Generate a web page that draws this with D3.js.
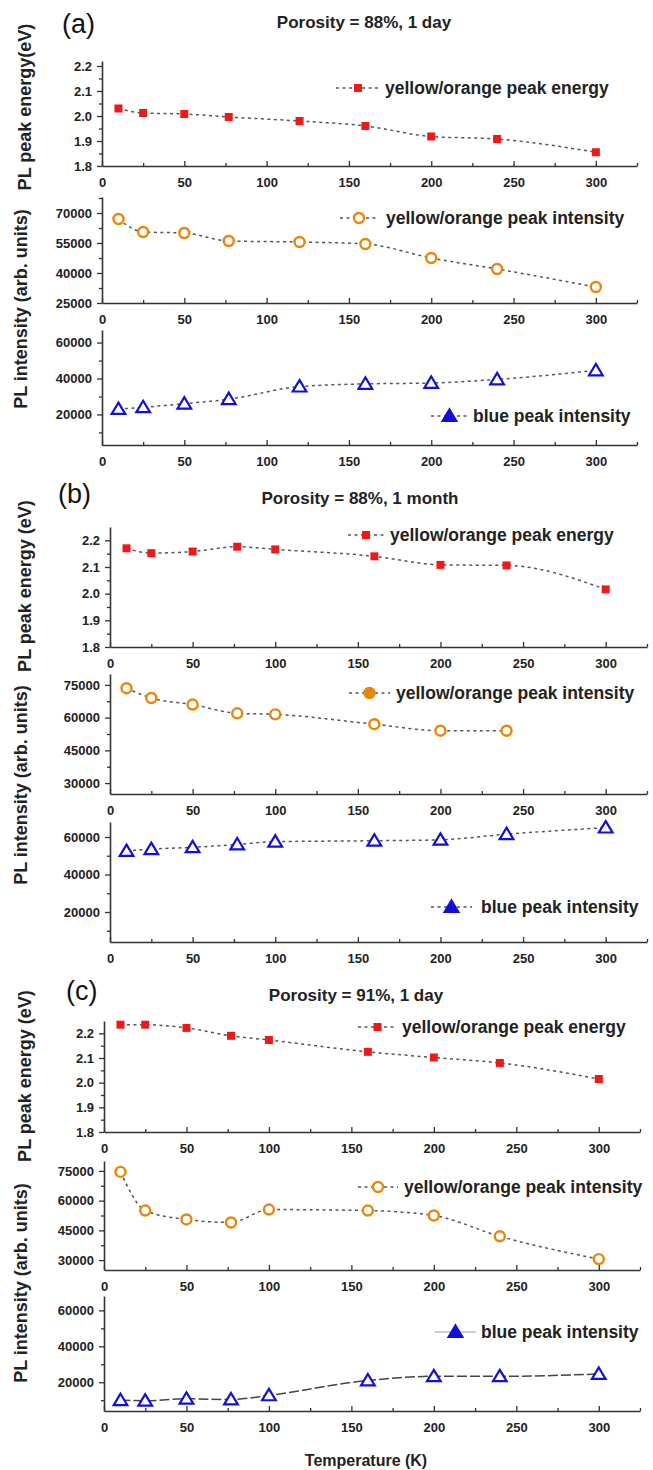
<!DOCTYPE html>
<html>
<head>
<meta charset="utf-8">
<script src="https://cdn.jsdelivr.net/npm/d3@7"></script>
<style>
  body { margin: 0; background: #fff; }
  svg { display: block; font-family: "Liberation Sans", Arial, sans-serif; }
</style>
</head>
<body>
<div id="chart"></div>
<script>
// temperatures (K)
const tempsA = [10, 25, 50, 77, 120, 160, 200, 240, 300];
const tempsBC = [10, 25, 50, 77, 100, 160, 200, 240, 300];
const tempsB2 = [10, 25, 50, 77, 100, 160, 200, 240];

// (a) porosity 88%, 1 day
const energyA = [2.03, 2.012, 2.008, 1.996, 1.98, 1.96, 1.918, 1.908, 1.855];
const yoIntA = [67000, 60500, 60000, 56000, 55500, 54500, 47500, 42000, 33000];
const blueA = [23000, 24000, 26000, 28500, 35500, 37000, 37500, 39500, 44500];

// (b) porosity 88%, 1 month
const energyB = [2.17, 2.152, 2.158, 2.176, 2.166, 2.14, 2.108, 2.106, 2.016];
const yoIntB = [73500, 69000, 66000, 62000, 61500, 57000, 54000, 54000];
const blueB = [52500, 53500, 54500, 56000, 57500, 58000, 58500, 61500, 65000];

// (c) porosity 91%, 1 day
const energyC = [2.235, 2.235, 2.222, 2.19, 2.173, 2.125, 2.102, 2.08, 2.015];
const yoIntC = [74500, 55000, 50500, 49000, 55500, 55000, 52500, 42000, 30500];
const blueC = [10000, 9700, 10800, 10400, 12700, 21000, 23300, 23300, 24600];

// ticks
const xTicks = [0, 50, 100, 150, 200, 250, 300];
const xMinor = [25, 75, 125, 175, 225, 275, 325];
const energyTicks = [1.8, 1.9, 2.0, 2.1, 2.2];
const energyMinor = [1.85, 1.95, 2.05, 2.15];
const intTicksA = [25000, 40000, 55000, 70000];
const intMinorA = [32500, 47500, 62500, 77500];
const intTicksBC = [30000, 45000, 60000, 75000];
const intMinorBC = [37500, 52500, 67500];
const blueTicks = [20000, 40000, 60000];
const blueMinor = [10000, 30000, 50000];

const labels = ['yellow/orange peak energy', 'yellow/orange peak intensity', 'blue peak intensity'];

const W = 653, H = 1470;
const svg = d3.select('#chart').append('svg').attr('width', W).attr('height', H);

const RED = '#f01818', ORANGE = '#e8860c', BLUE = '#1010d8';

// layout of each sub plot
const plots = [
  {xr: [102, 637], yr: [166, 61], dom: [1.8, 2.22], ticks: energyTicks, minor: energyMinor, fmt: d3.format('.1f'),
   xs: tempsA, ys: energyA, kind: 'square', leg: [336, 380, 88, 385], legFill: true},
  {xr: [102, 637], yr: [303, 197], dom: [25000, 78000], ticks: intTicksA, minor: intMinorA, fmt: d3.format('d'),
   xs: tempsA, ys: yoIntA, kind: 'circle', leg: [340, 378, 218, 386], legFill: false},
  {xr: [102, 637], yr: [445, 330], dom: [3000, 67000], ticks: blueTicks, minor: blueMinor, fmt: d3.format('d'),
   xs: tempsA, ys: blueA, kind: 'triangle', leg: [431, 468, 416, 473], legFill: true},
  {xr: [110, 647], yr: [647, 527], dom: [1.8, 2.25], ticks: energyTicks, minor: energyMinor, fmt: d3.format('.1f'),
   xs: tempsBC, ys: energyB, kind: 'square', leg: [348, 384, 535, 390], legFill: true},
  {xr: [110, 647], yr: [794, 674], dom: [25000, 80000], ticks: intTicksBC, minor: intMinorBC, fmt: d3.format('d'),
   xs: tempsB2, ys: yoIntB, kind: 'circle', leg: [349, 390, 693, 396], legFill: true},
  {xr: [110, 647], yr: [942, 822], dom: [4000, 68000], ticks: blueTicks, minor: blueMinor, fmt: d3.format('d'),
   xs: tempsBC, ys: blueB, kind: 'triangle', leg: [431, 472, 907, 481], legFill: true},
  {xr: [104, 640], yr: [1132, 1021], dom: [1.8, 2.25], ticks: energyTicks, minor: energyMinor, fmt: d3.format('.1f'),
   xs: tempsBC, ys: energyC, kind: 'square', leg: [358, 397, 1027, 402], legFill: true},
  {xr: [104, 640], yr: [1270, 1161], dom: [25000, 80000], ticks: intTicksBC, minor: intMinorBC, fmt: d3.format('d'),
   xs: tempsBC, ys: yoIntC, kind: 'circle', leg: [358, 398, 1187, 404], legFill: false},
  {xr: [104, 640], yr: [1411, 1296], dom: [4000, 68000], ticks: blueTicks, minor: blueMinor, fmt: d3.format('d'),
   xs: tempsBC, ys: blueC, kind: 'triangle', leg: [435, 476, 1332, 481], legFill: true, solid: true}
];

function marker(g, kind, x, y, filled) {
  if (kind === 'square') {
    g.append('rect').attr('x', x - 4).attr('y', y - 4).attr('width', 8).attr('height', 8).attr('fill', RED);
  } else if (kind === 'circle') {
    g.append('circle').attr('cx', x).attr('cy', y).attr('r', 5)
      .attr('fill', filled ? ORANGE : '#fff').attr('stroke', ORANGE).attr('stroke-width', 2.4);
  } else {
    const s = 6.5;
    g.append('path')
      .attr('d', `M${x},${y - s}L${x + s * 1.05},${y + s * 0.75}L${x - s * 1.05},${y + s * 0.75}Z`)
      .attr('fill', filled ? BLUE : '#fff').attr('stroke', BLUE).attr('stroke-width', 2.2)
      .attr('stroke-linejoin', 'miter');
  }
}

plots.forEach((p, i) => {
  const x = d3.scaleLinear().domain([0, 325]).range(p.xr);
  const y = d3.scaleLinear().domain(p.dom).range(p.yr);
  const g = svg.append('g');

  // y axis
  g.append('g').attr('transform', `translate(${p.xr[0]},0)`)
    .call(d3.axisLeft(y).tickValues(p.ticks).tickFormat(p.fmt).tickSize(5).tickSizeOuter(0).tickPadding(5));
  g.append('g').attr('transform', `translate(${p.xr[0]},0)`)
    .call(d3.axisLeft(y).tickValues(p.minor).tickFormat('').tickSize(3).tickSizeOuter(0))
    .select('.domain').remove();

  // x axis (ticks point inward)
  g.append('g').attr('transform', `translate(0,${p.yr[0]})`)
    .call(d3.axisBottom(x).tickValues(xTicks).tickSize(-5).tickSizeOuter(0).tickPadding(12));
  g.append('g').attr('transform', `translate(0,${p.yr[0]})`)
    .call(d3.axisBottom(x).tickValues(xMinor).tickFormat('').tickSize(-3).tickSizeOuter(0))
    .select('.domain').remove();

  g.selectAll('.domain').attr('stroke', '#333').attr('stroke-width', 1.6);
  g.selectAll('.tick line').attr('stroke', '#333').attr('stroke-width', 1.3);
  g.selectAll('.tick text').attr('fill', '#222').style('font-size', '13px').style('font-weight', 'bold');

  // connecting line
  const pts = p.xs.map((t, j) => [x(t), y(p.ys[j])]);
  const line = d3.line().curve(d3.curveMonotoneX);
  g.append('path').attr('d', line(pts)).attr('fill', 'none')
    .attr('stroke', p.solid ? '#444' : '#555').attr('stroke-width', 1.5)
    .attr('stroke-dasharray', p.solid ? '10,3' : '3,3.5');

  pts.forEach(d => marker(g, p.kind, d[0], d[1], p.kind === 'square'));

  // legend
  const [lx1, lx2, ly, tx] = p.leg;
  g.append('line').attr('x1', lx1).attr('x2', lx2).attr('y1', ly).attr('y2', ly)
    .attr('stroke', p.solid ? '#bbb' : '#555').attr('stroke-width', 1.5)
    .attr('stroke-dasharray', p.solid ? null : '3,3.5');
  marker(g, p.kind, (lx1 + lx2) / 2, ly, p.legFill);
  g.append('text').attr('x', tx).attr('y', ly).attr('dy', '0.35em')
    .style('font-size', '17.5px').style('font-weight', 'bold').attr('fill', '#222')
    .text(labels[i % 3]);
});

// panel letters and titles
const panelLetters = ['(a)', '(b)', '(c)'];
const titles = ['Porosity = 88%, 1 day', 'Porosity = 88%, 1 month', 'Porosity = 91%, 1 day'];
const letterPos = [[62, 33], [58, 503], [66, 1000]];
const titlePos = [[364, 22], [360, 498], [356, 995]];
panelLetters.forEach((t, i) => {
  svg.append('text').attr('x', letterPos[i][0]).attr('y', letterPos[i][1])
    .style('font-size', '27px').attr('fill', '#111').text(t);
  svg.append('text').attr('x', titlePos[i][0]).attr('y', titlePos[i][1]).attr('dy', '0.35em')
    .attr('text-anchor', 'middle').style('font-size', '17px').style('font-weight', 'bold')
    .attr('fill', '#222').text(titles[i]);
});

// y axis titles
const yTitles = ['PL peak energy(eV)', 'PL intensity (arb. units)', 'PL peak energy (eV)',
                 'PL intensity (arb. units)', 'PL peak energy (eV)', 'PL intensity (arb. units)'];
const yTitlePos = [[31, 107], [27, 309], [31, 586], [27, 785], [31, 1076], [27, 1283]];
yTitles.forEach((t, i) => {
  svg.append('text').attr('transform', `translate(${yTitlePos[i][0]},${yTitlePos[i][1]}) rotate(-90)`)
    .attr('text-anchor', 'middle').style('font-size', '18px').style('font-weight', 'bold')
    .attr('fill', '#222').text(t);
});

svg.append('text').attr('x', 366).attr('y', 1460).attr('dy', '0.35em').attr('text-anchor', 'middle')
  .style('font-size', '16px').style('font-weight', 'bold').attr('fill', '#222').text('Temperature (K)');
</script>
</body>
</html>
